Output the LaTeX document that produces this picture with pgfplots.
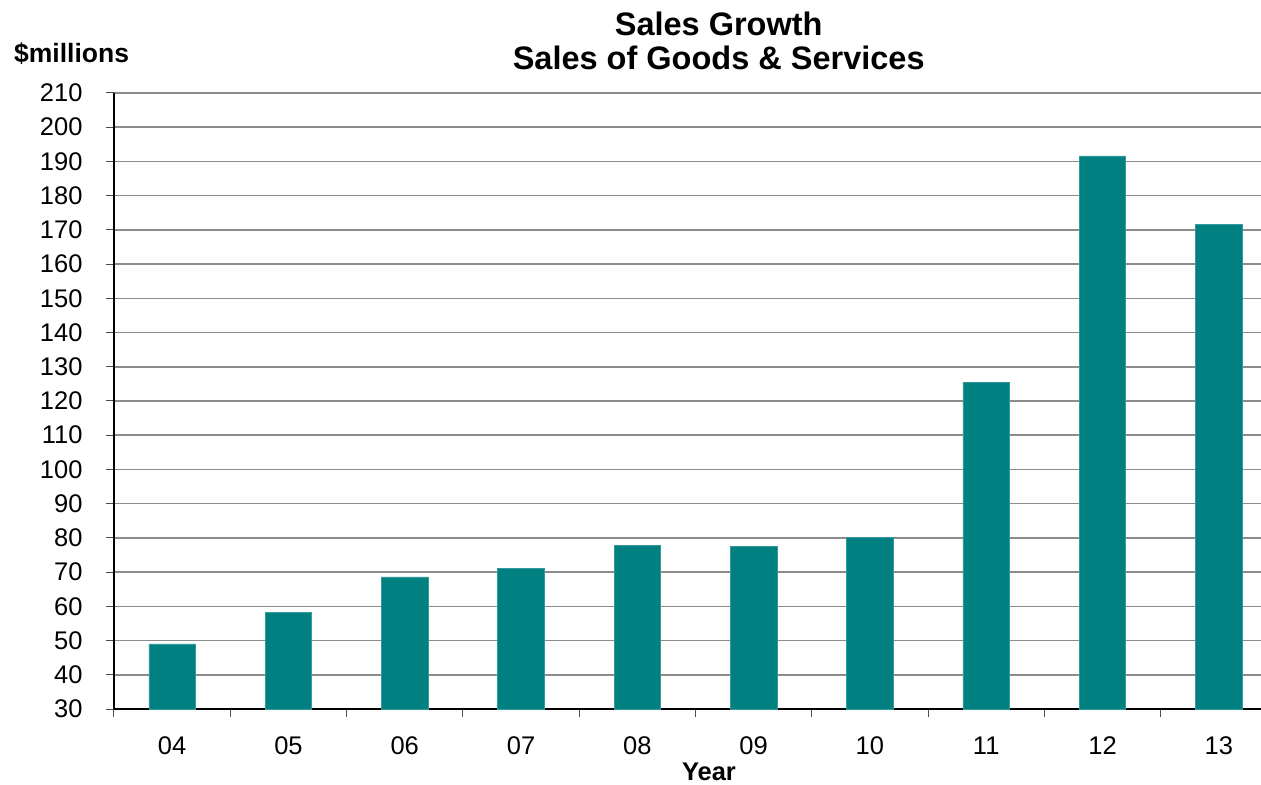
\documentclass[border=0pt]{standalone}
\usepackage{pgfplots}
\pgfplotsset{compat=1.18}
\usepackage{fontspec}
\setmainfont{Liberation Sans}
\definecolor{barteal}{HTML}{008080}
\definecolor{gridgray}{HTML}{8C8C8C}
\begin{document}
\begin{tikzpicture}
\useasboundingbox (-114bp,-76bp) rectangle (1147bp,709bp);
\begin{axis}[
  at={(0,0)}, anchor=south west,
  scale only axis, width=1163bp, height=616bp,
  xmin=-0.5, xmax=9.5, ymin=30, ymax=210,
  ytick={30,40,...,210},
  xtick={0,...,9},
  xticklabels={04,05,06,07,08,09,10,11,12,13},
  minor xtick={-0.5,0.5,...,9.5},
  major x tick style={draw=none},
  minor x tick style={black!70, line width=1bp},
  y tick style={black!70, line width=1bp},
  major tick length=8bp, minor tick length=8bp,
  tick align=outside,
  axis x line*=bottom, axis y line*=left,
  axis line style={black, line width=1.3bp, -},
  ymajorgrids, grid style={gridgray, line width=1.6bp},
  /pgf/number format/assume math mode=true,
  ticklabel style={font=\fontsize{25.5bp}{30bp}\selectfont},
  yticklabel style={anchor=east, xshift=-20bp},
  xticklabel style={anchor=base, yshift=-37bp},
  clip=false,
]
\addplot[ybar, bar width=0.40, fill=barteal, draw=barteal!80!white, line width=0.6bp]
  coordinates {(0,49.0) (1,58.3) (2,68.6) (3,71.0) (4,77.8) (5,77.6) (6,80.2) (7,125.4) (8,191.6) (9,171.5)};
\node[font=\bfseries\fontsize{32.5bp}{38bp}\selectfont, anchor=base] at (rel axis cs:0.52,1) [yshift=57bp] {Sales Growth};
\node[font=\bfseries\fontsize{32.5bp}{38bp}\selectfont, anchor=base] at (rel axis cs:0.52,1) [yshift=23bp] {Sales of Goods \& Services};
\node[font=\bfseries\fontsize{26.5bp}{30bp}\selectfont, anchor=base west, inner sep=0pt] at (rel axis cs:0,1) [xshift=-100bp, yshift=30bp] {\$millions};
\node[font=\bfseries\fontsize{25.5bp}{30bp}\selectfont, anchor=base] at (rel axis cs:0.5116,0) [yshift=-71bp] {Year};
\end{axis}
\end{tikzpicture}
\end{document}
